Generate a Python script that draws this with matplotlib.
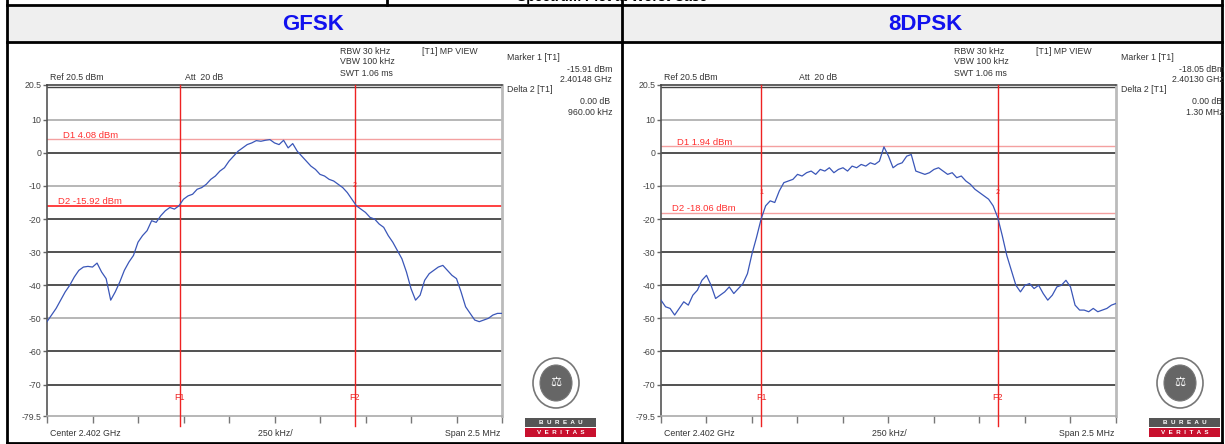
import numpy as np
import matplotlib
matplotlib.use("Agg")
import matplotlib.pyplot as plt
from matplotlib.patches import Rectangle, Ellipse

plt.rcParams['font.family'] = ['Liberation Sans', 'DejaVu Sans']

# sweep: center 2402 MHz, span 2.5 MHz, 101 points
center_mhz = 2402.0
span_mhz = 2.5
freq_mhz = np.linspace(center_mhz - span_mhz / 2, center_mhz + span_mhz / 2, 101)

gfsk_level = [-51, -49, -47, -44.5, -42, -40, -37.5, -35.5, -34.5, -34.3,
              -34.5, -33.3, -36, -38, -44.5, -42, -39, -35.5, -33, -31,
              -27, -25, -23.5, -20.5, -21, -19, -17.5, -16.5, -17, -16,
              -14, -13, -12.5, -11, -10.5, -9.5, -8, -7, -5.5, -4.5,
              -2.5, -1, 0.5, 1.5, 2.5, 3, 3.7, 3.5, 3.8, 4,
              3, 2.5, 3.8, 1.5, 2.8, 0.5, -1, -2.5, -4, -5,
              -6.5, -7, -8, -8.5, -9.5, -10.5, -12, -14, -16, -17,
              -18, -19.5, -20, -21.5, -22.5, -25, -27, -29.5, -32, -36,
              -41, -44.5, -43, -38.5, -36.5, -35.5, -34.5, -34, -35.5, -37,
              -38, -42, -46.5, -48.5, -50.5, -51, -50.5, -50, -49, -48.5,
              -48.5]

dpsk_level = [-44.5, -46.5, -47, -49, -47, -45, -46, -43, -41.5, -38.5,
              -37, -40, -44, -43, -42, -40.5, -42.5, -41, -39.5, -36.5,
              -30.5, -25.5, -20, -16, -14.5, -15, -11.5, -9, -8.5, -8,
              -6.5, -7, -6, -5.5, -6.5, -5, -5.5, -4.5, -6, -5,
              -4.5, -5.5, -4, -4.5, -3.5, -4, -3, -3.5, -2.5, 1.8,
              -1, -4.5, -3.5, -3, -1, -0.5, -5.5, -6, -6.5, -6,
              -5, -4.5, -5.5, -6.5, -6, -7.5, -7, -8.5, -9.5, -11,
              -12, -13, -14, -16, -19.5, -25, -31, -35.5, -40, -42,
              -40, -39.5, -41, -40, -42.5, -44.5, -43, -40.5, -40, -38.5,
              -40.5, -46, -47.5, -47.5, -48, -47, -48, -47.5, -47, -46,
              -45.5]

modes = ['GFSK', '8DPSK']
levels = [gfsk_level, dpsk_level]
marker1_mhz = [2401.48, 2401.30]
delta_mhz = [0.96, 1.30]
d1_dbm = [4.08, 1.94]
d2_dbm = [-15.92, -18.06]
marker1_txt = ['-15.91 dBm', '-18.05 dBm']
marker1_freq_txt = ['2.40148 GHz', '2.40130 GHz']
delta_txt = ['960.00 kHz', '1.30 MHz']

W, H = 1225, 444
fig = plt.figure(figsize=(W / 100, H / 100), dpi=100)
bg = fig.add_axes([0, 0, 1, 1])
bg.set_xlim(0, W)
bg.set_ylim(H, 0)
bg.axis('off')

# table frame
bg.add_patch(Rectangle((7, 5), 1215, 37, facecolor='#efefef', edgecolor='none'))
for y in [5, 42]:
    bg.plot([7, 1222], [y, y], color='black', lw=2)
bg.plot([7, 1222], [443, 443], color='black', lw=2)
for x in [7, 622, 1222]:
    bg.plot([x, x], [0, 444], color='black', lw=2)
bg.plot([387, 387], [0, 5], color='black', lw=2)
# title row is cut at the top of the reference, only its lower edge shows
bg.text(612, 3.5, 'Spectrum Plot at Worst Case', ha='center', va='bottom',
        fontsize=10, fontweight='bold')
for k, m in enumerate(modes):
    bg.text(313 + 612 * k, 24, m, ha='center', va='center', fontsize=16,
            fontweight='bold', color='#1111ee')

grid_cols = {10: '#aaaaaa', 0: '#333333', -10: '#aaaaaa', -20: '#333333',
             -30: '#333333', -40: '#333333', -50: '#aaaaaa', -60: '#333333',
             -70: '#333333'}
fs = 6.3
txt_col = '#333333'


def logo(x0):
    bg.add_patch(Ellipse((x0 + 31, 383), 46, 50, facecolor='white',
                         edgecolor='#777777', lw=1.2))
    bg.add_patch(Ellipse((x0 + 31, 383), 32, 36, facecolor='#666666',
                         edgecolor='#777777', lw=0.8))
    bg.text(x0 + 31, 383, '⚖', ha='center', va='center', fontsize=9, color='white')
    bg.add_patch(Rectangle((x0, 418), 71, 9, facecolor='#555555'))
    bg.add_patch(Rectangle((x0, 428), 71, 9, facecolor='#c8102e'))
    bg.text(x0 + 35.5, 422.5, 'B  U  R  E  A  U', ha='center', va='center',
            fontsize=4.5, color='white', fontweight='bold')
    bg.text(x0 + 35.5, 432.5, 'V  E  R  I  T  A  S', ha='center', va='center',
            fontsize=4.5, color='white', fontweight='bold')


for k in range(2):
    dx = 614 * k
    x0 = 47 + dx
    ax = fig.add_axes([x0 / W, 1 - 416 / H, 455 / W, 331 / H])
    ax.set_xlim(freq_mhz[0], freq_mhz[-1])
    ax.set_ylim(-79.5, 20.5)
    for yv, c in grid_cols.items():
        ax.axhline(yv, color=c, lw=1.2, zorder=1)
    ax.axhline(19.8, color='#444444', lw=1, zorder=1)
    ax.spines['left'].set_color('#555555')
    ax.spines['left'].set_linewidth(1.2)
    ax.spines['top'].set_color('#444444')
    ax.spines['top'].set_linewidth(1.2)
    ax.spines['right'].set_color('#bbbbbb')
    ax.spines['right'].set_linewidth(2)
    ax.spines['bottom'].set_color('#aaaaaa')
    ax.spines['bottom'].set_linewidth(1.2)
    yt = [20.5, 10, 0, -10, -20, -30, -40, -50, -60, -70, -79.5]
    ax.set_yticks(yt)
    ax.set_yticklabels(['20.5' if v == 20.5 else ('-79.5' if v == -79.5 else '%d' % v) for v in yt])
    ax.set_xticks(np.linspace(freq_mhz[0], freq_mhz[-1], 11))
    ax.set_xticklabels([])
    ax.tick_params(axis='y', direction='out', length=3, width=1, color='#666666',
                   labelsize=fs, labelcolor='#444444', pad=1)
    ax.tick_params(axis='x', direction='out', length=5, width=1, color='#777777')

    f1 = marker1_mhz[k]
    f2 = f1 + delta_mhz[k]
    ax.axhline(d1_dbm[k], color='#f4a0a0', lw=1, zorder=2)
    ax.axhline(d2_dbm[k], color='#ff2020' if k == 0 else '#f4a0a0',
               lw=1.2 if k == 0 else 1, zorder=2)
    for f, lab in [(f1, 'F1'), (f2, 'F2')]:
        ax.axvline(f, ymin=-0.03, ymax=1, color='#ee2222', lw=1, clip_on=False, zorder=3)
        ax.text(f, -74, lab, color='#ee2222', fontsize=6.5, ha='center', va='center')
    my = -9.8 if k == 0 else -12
    ax.text(f1, my, '1', color='#ee2222', fontsize=5, ha='center', va='center')
    ax.text(f2, my, '2', color='#ee2222', fontsize=5, ha='center', va='center')
    ax.text(freq_mhz[0] + 0.09, d1_dbm[k] + 1.2, 'D1 %.2f dBm' % d1_dbm[k],
            color='#ff3030', fontsize=6.8, va='center')
    ax.text(freq_mhz[0] + 0.06, d2_dbm[k] + 1.2, 'D2 %.2f dBm' % d2_dbm[k],
            color='#ff3030', fontsize=6.8, va='center')
    ax.plot(freq_mhz, levels[k], color='#3a56b8', lw=0.9, zorder=4)

    # instrument header texts
    bg.text(50 + dx, 77, 'Ref 20.5 dBm', fontsize=fs, color=txt_col, va='center')
    bg.text(185 + dx, 77, 'Att  20 dB', fontsize=fs, color=txt_col, va='center')
    bg.text(67 + dx, 97, 'Offset 10.5 dB', fontsize=fs, color=txt_col, va='center')
    for j, s in enumerate(['RBW 30 kHz', 'VBW 100 kHz', 'SWT 1.06 ms']):
        bg.text(340 + dx, 51 + 11 * j, s, fontsize=fs, color=txt_col, va='center')
    bg.text(422 + dx, 51, '[T1] MP VIEW', fontsize=fs, color=txt_col, va='center')
    bg.text(507 + dx, 58, 'Marker 1 [T1]', fontsize=fs, color=txt_col, va='center')
    rx = min(612 + dx, 1224)
    bg.text(rx, 69, marker1_txt[k], fontsize=fs, color=txt_col, va='center', ha='right')
    bg.text(rx, 79, marker1_freq_txt[k], fontsize=fs, color=txt_col, va='center', ha='right')
    bg.text(507 + dx, 90, 'Delta 2 [T1]', fontsize=fs, color=txt_col, va='center')
    bg.text(rx - 2, 101, '0.00 dB', fontsize=fs, color=txt_col, va='center', ha='right')
    bg.text(rx, 112, delta_txt[k], fontsize=fs, color=txt_col, va='center', ha='right')
    bg.text(50 + dx, 433, 'Center 2.402 GHz', fontsize=fs, color=txt_col, va='center')
    bg.text(275 + dx, 433, '250 kHz/', fontsize=fs, color=txt_col, va='center', ha='center')
    bg.text(500 + dx, 433, 'Span 2.5 MHz', fontsize=fs, color=txt_col, va='center', ha='right')
    logo(525 + dx + (10 if k else 0))

fig.savefig('out.png', dpi=100)
